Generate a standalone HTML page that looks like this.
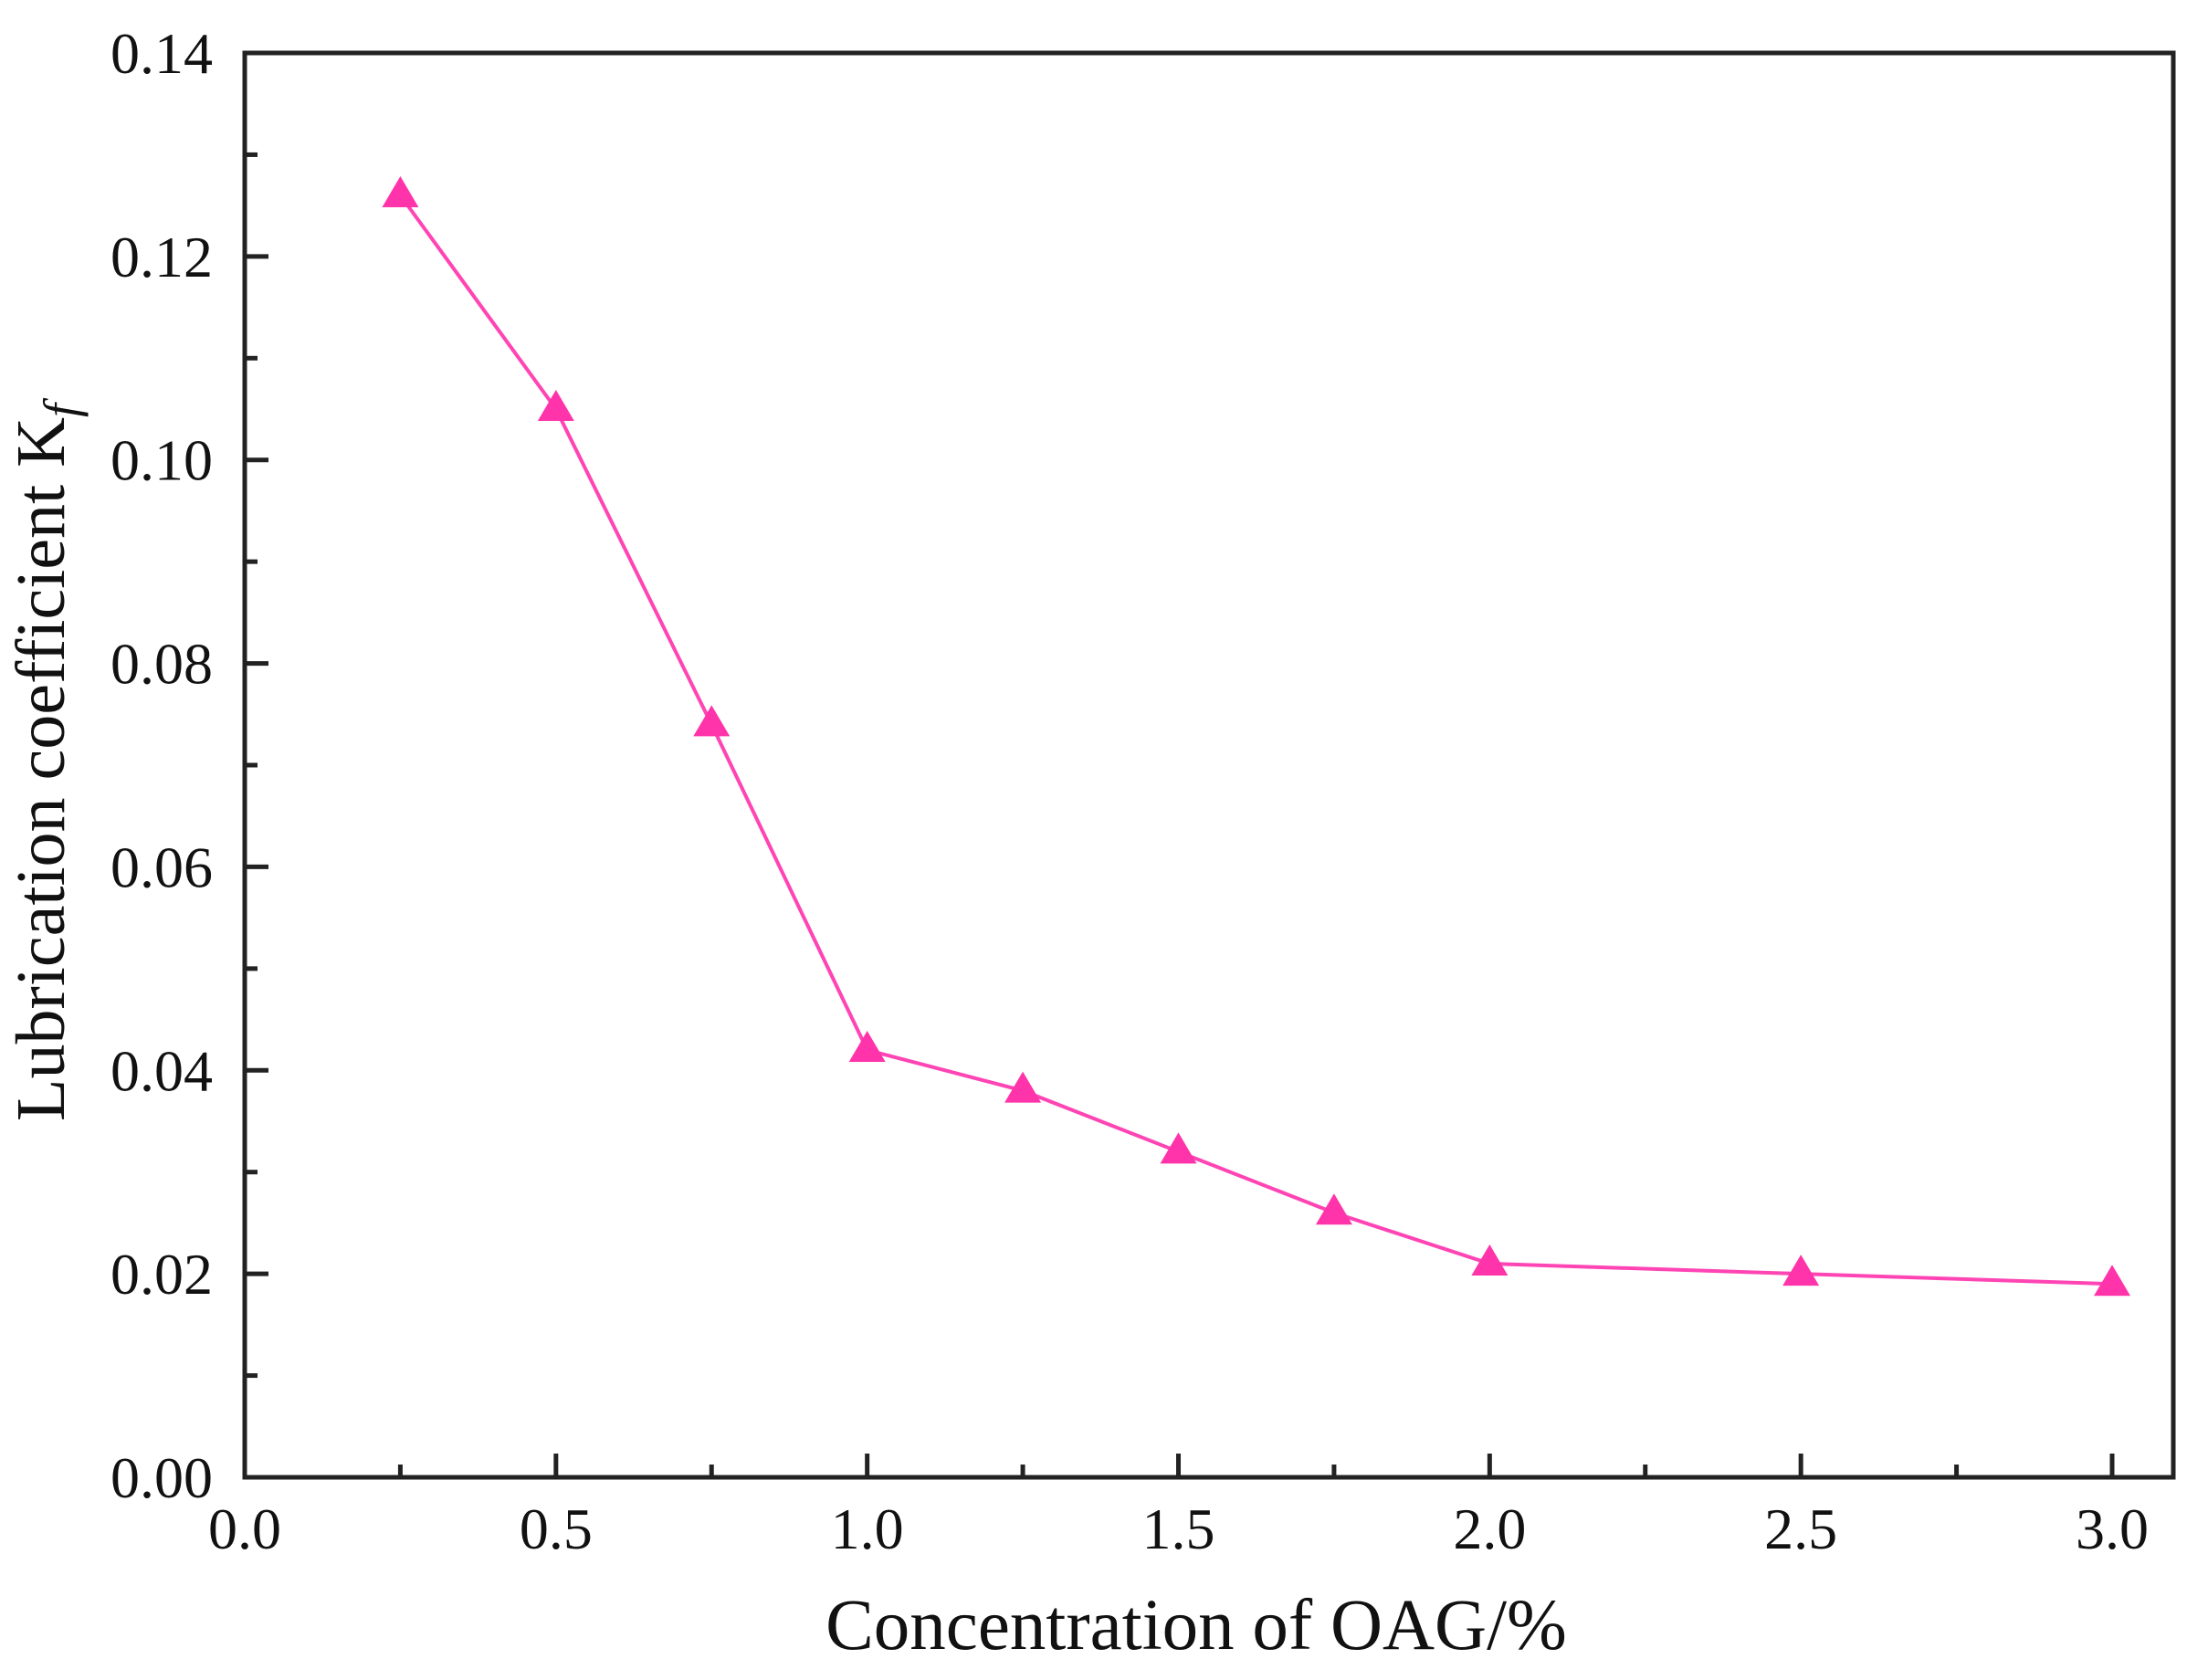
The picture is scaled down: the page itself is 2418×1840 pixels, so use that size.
<!DOCTYPE html>
<html><head><meta charset="utf-8"><style>
html,body{margin:0;padding:0;background:#fff;}
svg{display:block;font-family:"Liberation Serif",serif;}
</style></head><body>
<svg id="chart" width="2418" height="1840" viewBox="0 0 2418 1840">
<g id="axes"></g>
<g id="series"></g>
<text x="1310" y="1806" font-size="79" text-anchor="middle" fill="#111">Concentration of OAG/%</text>
<text transform="translate(70,835) rotate(-90)" font-size="76" text-anchor="middle" fill="#111">Lubrication coefficient K<tspan font-style="italic" font-size="54" dy="15">f</tspan></text>
</svg>
<script>
const xValues=[0.25,0.5,0.75,1.0,1.25,1.5,1.75,2.0,2.5,3.0];
const yValues=[0.126,0.105,0.074,0.042,0.038,0.032,0.026,0.021,0.020,0.019];
const xTicks=[0.0,0.5,1.0,1.5,2.0,2.5,3.0];
const yTicks=[0.00,0.02,0.04,0.06,0.08,0.10,0.12,0.14];

const L=268,R=2380,T=58,B=1618;
const X0=268,X3=2313;
const sx=v=>X0+(v/3)*(X3-X0);
const sy=v=>B-(v/0.14)*(B-T);
const NS='http://www.w3.org/2000/svg';
function mk(tag,attrs,parent){const e=document.createElementNS(NS,tag);for(const k in attrs)e.setAttribute(k,attrs[k]);parent.appendChild(e);return e;}
const axes=document.getElementById('axes'),series=document.getElementById('series');

const frame=mk('rect',{x:L,y:T,width:R-L,height:B-T,fill:'none',stroke:'#222','stroke-width':5},axes);



xTicks.forEach((v,i)=>{
  const x=sx(v);
  const t=mk('line',{x1:x,x2:x,y1:B,y2:B-26,stroke:'#222','stroke-width':5},axes);
  
  
  if(i<xTicks.length-1){const xm=sx(v+0.25);
    const m=mk('line',{x1:xm,x2:xm,y1:B,y2:B-14,stroke:'#222','stroke-width':5},axes);
    
    }
  const lb=mk('text',{x:x,y:B+78,'font-size':64,'text-anchor':'middle',fill:'#111'},axes);
  lb.textContent=v.toFixed(1);
  
  
});
yTicks.forEach((v,i)=>{
  const y=sy(v);
  const t=mk('line',{x1:L,x2:L+26,y1:y,y2:y,stroke:'#222','stroke-width':5},axes);
  
  
  if(i<yTicks.length-1){const ym=sy(v+0.01);
    const m=mk('line',{x1:L,x2:L+14,y1:ym,y2:ym,stroke:'#222','stroke-width':5},axes);
    
    }
  const lb=mk('text',{x:L-35,y:y+22,'font-size':64,'text-anchor':'end',fill:'#111'},axes);
  lb.textContent=v.toFixed(2);
  
  
});

const pts=xValues.map((x,i)=>sx(x)+','+sy(yValues[i])).join(' ');
const line=mk('polyline',{points:pts,fill:'none',stroke:'#ff44b4','stroke-width':4},series);


xValues.forEach((x,i)=>{
  const cx=sx(x),cy=sy(yValues[i]);
  const p=mk('polygon',{points:`${cx},${cy-21} ${cx-20},${cy+13} ${cx+20},${cy+13}`,fill:'#ff33aa'},series);
  
  
});
</script>
</body></html>
